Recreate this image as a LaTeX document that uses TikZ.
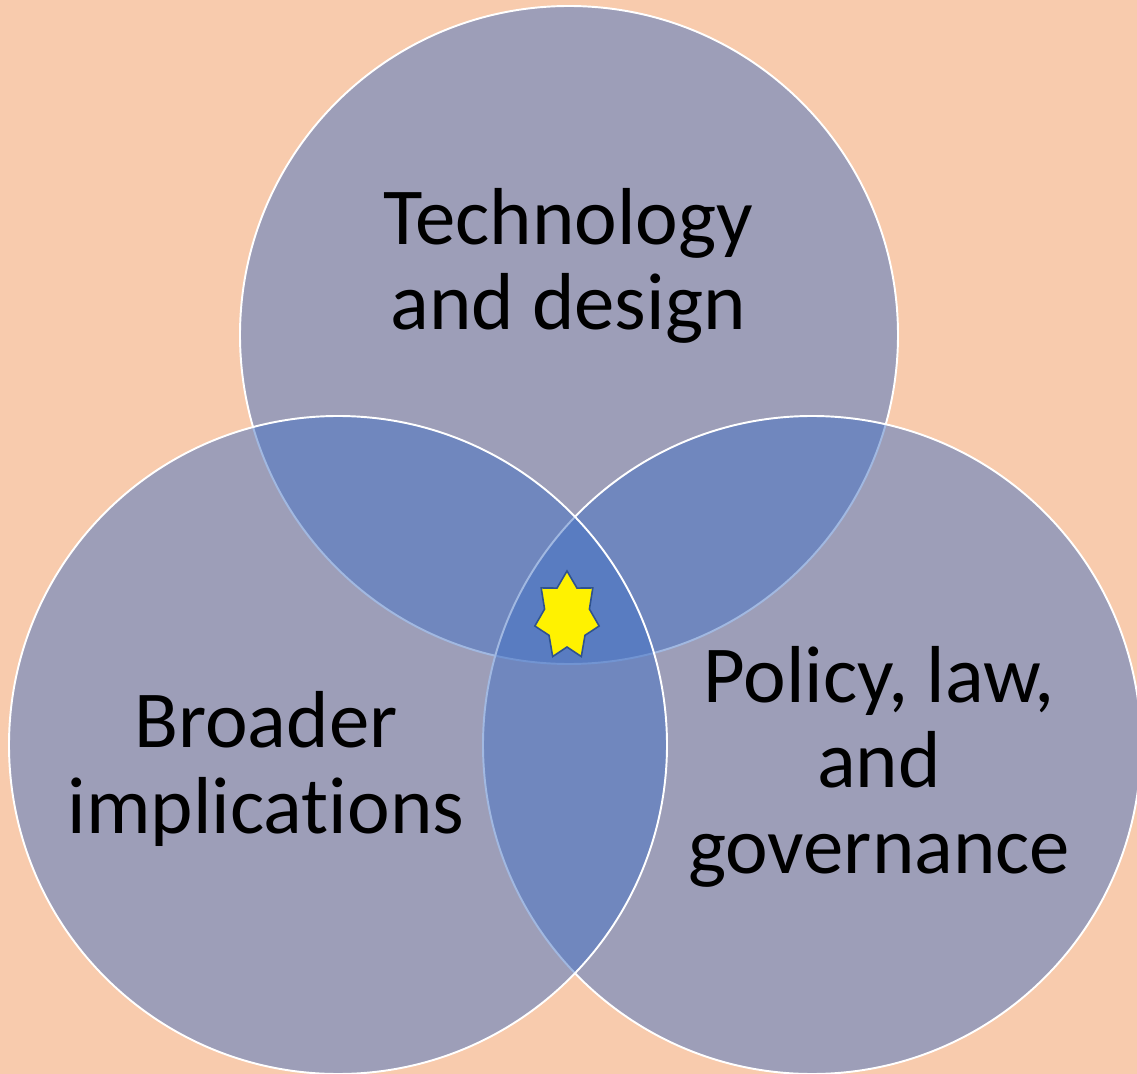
\documentclass[tikz,border=0pt]{standalone}
\usepackage{fontspec}
\setmainfont{Carlito}[Ligatures={NoCommon,NoRare}]
\definecolor{bgpeach}{HTML}{F8CBAD}
\definecolor{accentblue}{HTML}{4472C4}
\definecolor{staredge}{HTML}{2F528F}
\begin{document}
\begin{tikzpicture}[x=0.02cm,y=-0.02cm,
  venn/.style={fill=accentblue, fill opacity=0.5, draw=white, line width=1.1pt},
  label/.style={align=center, text=black, inner sep=0pt, anchor=base,
    font=\fontsize{46}{48.4}\selectfont},
  star7/.style={fill=yellow, draw=staredge, line width=0.9pt, line join=miter}]
  % background and frame
  \fill[bgpeach] (0,0) rectangle (1137,1074);
  \useasboundingbox (0,0) rectangle (1137,1074);
  \begin{scope}
    \clip (0,0) rectangle (1137,1074);
    % the three sets, drawn top, right, left
    \path[venn] (569,335) circle [radius=329];
    \path[venn] (812,745) circle [radius=329];
    \path[venn] (338,745) circle [radius=329];
  \end{scope}
  % labels (anchored on the baseline of their last line)
  \node[label] (tech) at (568,330) {Technology\\and design};
  \node[label] (broad) at (266,833) {Broader\\implications};
  \node[label] (policy) at (879,873) {Policy, law,\\and\\governance};
  % seven-pointed star in the common region
  \draw[star7] (567,571)
    \foreach \k [evaluate=\k as \rx using {mod(\k,2)==0 ? 33 : 23},
                 evaluate=\k as \ry using {mod(\k,2)==0 ? 45 : 31}] in {1,...,13}
      { -- ({567+\rx*sin(\k*180/7)},{616-\ry*cos(\k*180/7)}) } -- cycle;
\end{tikzpicture}
\end{document}
